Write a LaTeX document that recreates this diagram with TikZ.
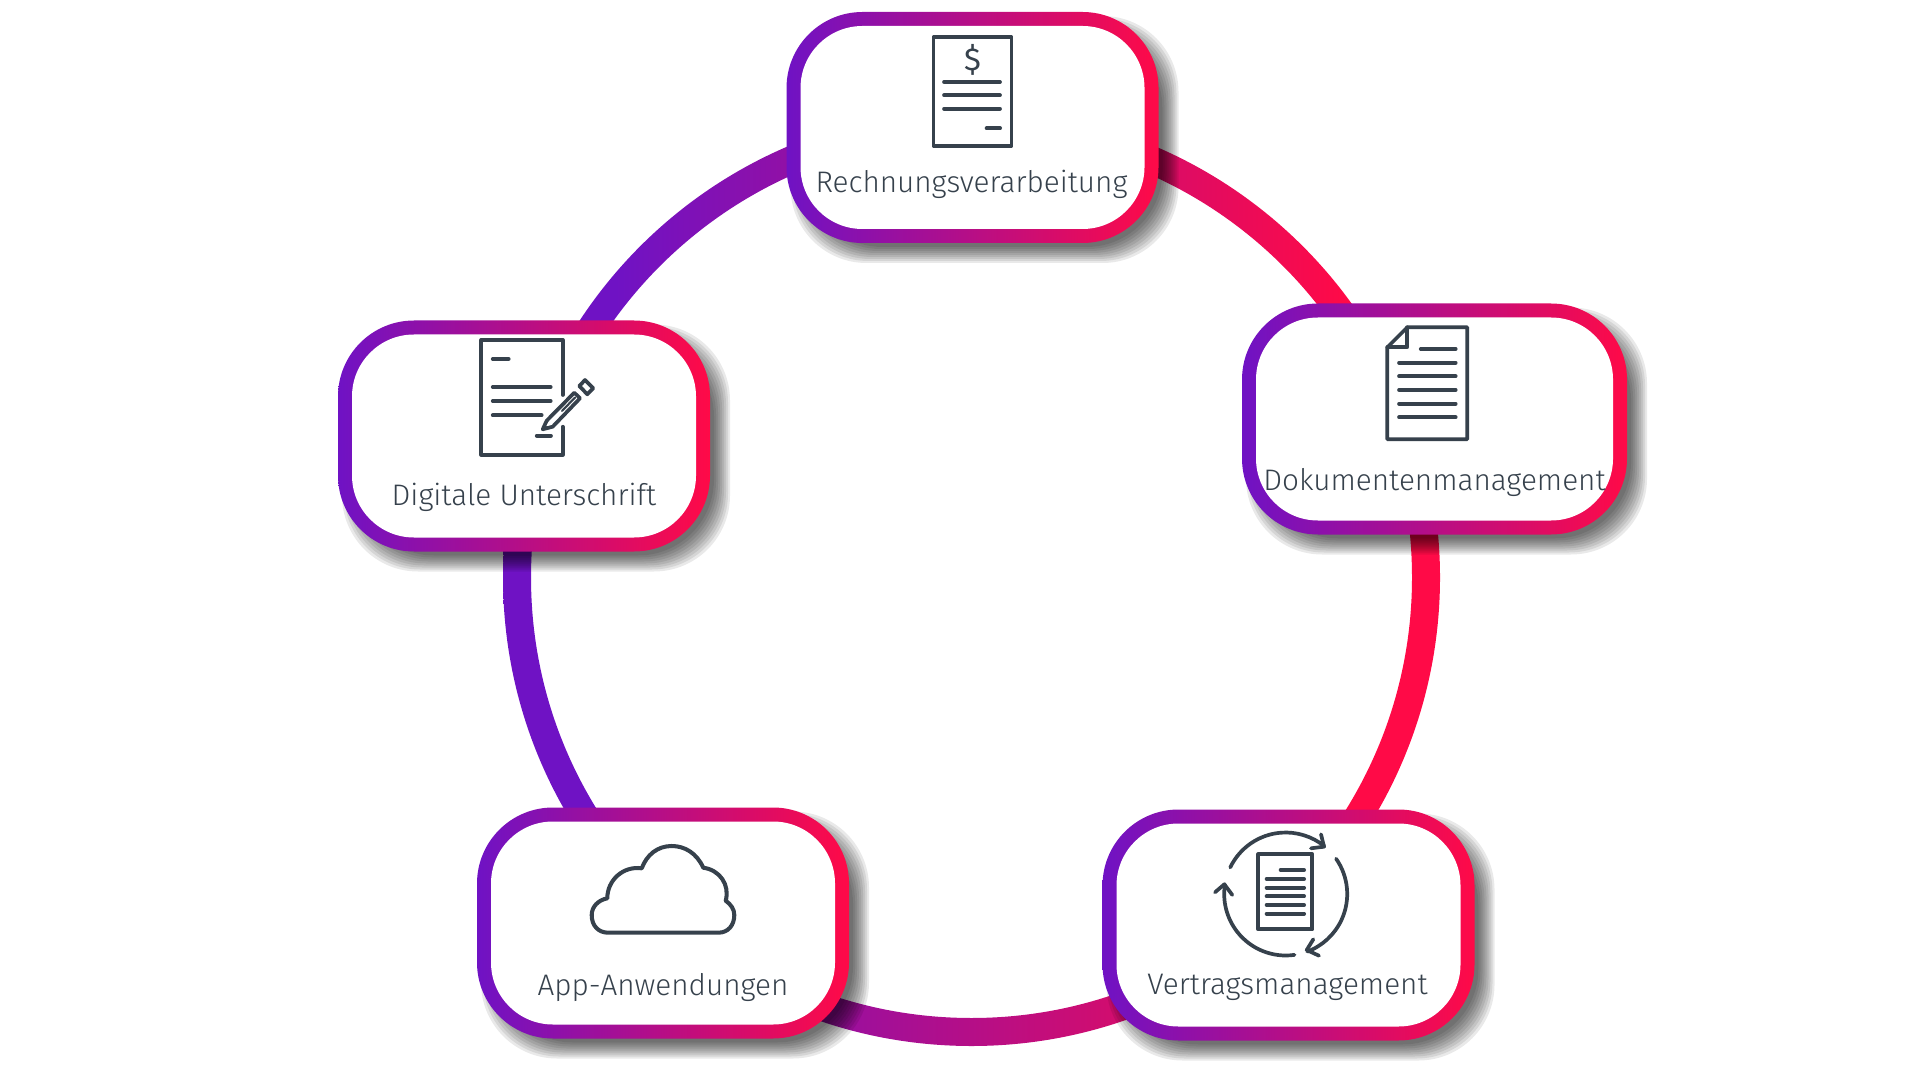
\documentclass[tikz,border=0pt]{standalone}
\usepackage{fontspec}
\setmainfont{Fira Sans}[UprightFont=* Light]
\newfontfamily\dollarfont{Fira Sans}
\usetikzlibrary{calc}
\definecolor{iconcol}{HTML}{36414C}
\definecolor{purplecol}{HTML}{6F12C4}
\definecolor{redcol}{HTML}{FF0A47}
\pgfdeclarehorizontalshading{ringshade}{100bp}{color(0bp)=(purplecol); color(31bp)=(purplecol); color(70bp)=(redcol); color(100bp)=(redcol)}
\tikzset{
	iconline/.style={draw=iconcol, line width=1.05pt, line cap=round, line join=round},
	iconthick/.style={iconline, line width=1.15pt},
	outerbox/.style={rectangle, rounded corners=0.76cm, minimum width=3.72cm, minimum height=2.31cm, inner sep=0pt, left color=purplecol, right color=redcol},
	innerbox/.style={rectangle, rounded corners=0.62cm, minimum width=3.44cm, minimum height=2.03cm, inner sep=0pt, fill=white},
	boxlabel/.style={text=iconcol, font=\fontsize{8.45}{10}\selectfont, inner sep=0pt}
}
\def\boxshadow(#1,#2,#3){\foreach \grow in {-0.08,-0.06,...,0.085}{\fill[black, opacity=0.085, rounded corners=0.76cm] ($(#1,#2)+(-#3+0.12-\grow,-1.155+0.12-\grow)$) rectangle ($(#1,#2)+(#3+0.12+\grow,1.155+0.12+\grow)$);}}

\begin{document}
\begin{tikzpicture}[y=-1cm]
	\useasboundingbox (0,0) rectangle (19.2,10.8);
	
	%%%%% RING %%%%%
	\path[even odd rule, shading=ringshade] (9.715,5.775) circle (4.685) (9.715,5.775) circle (4.405);
	
	%%%%% SHADOWS %%%%%
	\boxshadow(9.725,1.275,1.86)
	\boxshadow(14.345,4.19,1.925)
	\boxshadow(12.885,9.25,1.86)
	\boxshadow(6.63,9.23,1.86)
	\boxshadow(5.24,4.36,1.86)
	
	%%%%% BOXES %%%%%
	\node[outerbox] (rechnungouter) at (9.725,1.275) {};
	\node[innerbox] (rechnung) at (9.725,1.275) {};
	\node[outerbox, minimum width=3.85cm] (dokumentouter) at (14.345,4.19) {};
	\node[innerbox, minimum width=3.57cm] (dokument) at (14.345,4.19) {};
	\node[outerbox] (vertragouter) at (12.885,9.25) {};
	\node[innerbox] (vertrag) at (12.885,9.25) {};
	\node[outerbox] (appouter) at (6.63,9.23) {};
	\node[innerbox] (app) at (6.63,9.23) {};
	\node[outerbox] (digitalouter) at (5.24,4.36) {};
	\node[innerbox] (digital) at (5.24,4.36) {};
	
	%%%%% LABELS %%%%%
	\node[boxlabel] (rechnunglabel) at (9.715,1.845) {Rechnungsverarbeitung};
	\node[boxlabel] (dokumentlabel) at (14.345,4.825) {Dokumentenmanagement};
	\node[boxlabel] (vertraglabel) at (12.875,9.875) {Vertragsmanagement};
	\node[boxlabel] (applabel) at (6.63,9.875) {App-Anwendungen};
	\node[boxlabel] (digitallabel) at (5.24,4.975) {Digitale Unterschrift};
	
	%%%%% INVOICE ICON %%%%%
	\draw[iconline] (9.335,0.37) rectangle (10.115,1.46);
	\node[text=iconcol, font=\dollarfont\fontsize{9}{10}\selectfont, inner sep=0pt] (dollar) at (9.725,0.60) {\$};
	\draw[iconline] (9.44,0.82) -- (10.0,0.82);
	\draw[iconline] (9.44,0.953) -- (10.0,0.953);
	\draw[iconline] (9.44,1.087) -- (10.0,1.087);
	\draw[iconthick] (9.867,1.283) -- (10.0,1.283);
	
	%%%%% DOCUMENT ICON %%%%%
	\draw[iconline] (13.873,3.473) -- (14.073,3.273) -- (14.673,3.273) -- (14.673,4.393) -- (13.873,4.393) -- cycle;
	\draw[iconline] (14.073,3.273) -- (14.073,3.473) -- (13.873,3.473);
	\draw[iconline] (14.207,3.49) -- (14.557,3.49);
	\foreach \liney in {3.627,3.763,3.9,4.037,4.173}
		\draw[iconline] (13.99,\liney) -- (14.557,\liney);
	
	%%%%% CONTRACT ICON %%%%%
	\draw[iconthick] (12.583,8.543) rectangle (13.123,9.293);
	\draw[iconthick] (12.807,8.7) -- (13.04,8.7);
	\foreach \liney in {8.79,8.877,8.963,9.05,9.137}
		\draw[iconthick] (12.667,\liney) -- (13.04,\liney);
	\draw[iconline] (12.857,8.94) ++(-154.4:0.615) arc (-154.4:-51:0.615);
	\draw[iconline] (12.857,8.94) ++(-35:0.615) arc (-35:69.4:0.615);
	\draw[iconline] (12.857,8.94) ++(81.8:0.615) arc (81.8:189:0.615);
	\draw[iconline] (13.21,8.343) -- (13.24,8.467) -- (13.11,8.483);
	\draw[iconline] (13.133,9.393) -- (13.067,9.5) -- (13.19,9.557);
	\draw[iconline] (12.15,8.923) -- (12.243,8.843) -- (12.323,8.95);
	
	%%%%% CLOUD ICON %%%%%
	\draw[iconthick] (6.083,9.327) -- (7.183,9.327)
		.. controls (7.283,9.327) and (7.343,9.25) .. (7.343,9.15)
		.. controls (7.343,9.09) and (7.307,9.043) .. (7.257,9.007)
		.. controls (7.3,8.85) and (7.2,8.7) .. (7.033,8.677)
		.. controls (6.967,8.533) and (6.85,8.46) .. (6.717,8.46)
		.. controls (6.573,8.46) and (6.467,8.55) .. (6.417,8.683)
		.. controls (6.233,8.657) and (6.073,8.8) .. (6.073,8.983)
		.. controls (5.983,9.0) and (5.917,9.067) .. (5.917,9.15)
		.. controls (5.917,9.257) and (5.983,9.327) .. (6.083,9.327) -- cycle;
	
	%%%%% SIGNATURE ICON %%%%%
	\draw[iconline] (5.627,3.95) -- (5.627,3.40) -- (4.813,3.40) -- (4.813,4.547) -- (5.627,4.547) -- (5.627,4.267);
	\draw[iconline] (4.927,3.59) -- (5.087,3.59);
	\draw[iconline] (4.927,3.87) -- (5.507,3.87);
	\draw[iconline] (4.927,4.01) -- (5.507,4.01);
	\draw[iconline] (4.927,4.153) -- (5.417,4.153);
	\draw[iconline] (5.367,4.357) -- (5.51,4.357);
	\draw[iconline] (5.467,4.207) -- (5.743,3.927) -- (5.8,3.983) -- (5.527,4.267) -- (5.427,4.293) -- cycle;
	\draw[iconline, line width=0.6pt] (5.62,4.11) -- (5.75,3.975);
	\fill[iconcol] (5.427,4.293) -- (5.447,4.245) -- (5.475,4.275) -- cycle;
	\draw[iconline] (5.793,3.86) -- (5.85,3.80) -- (5.933,3.883) -- (5.873,3.943) -- cycle;
\end{tikzpicture}
\end{document}
